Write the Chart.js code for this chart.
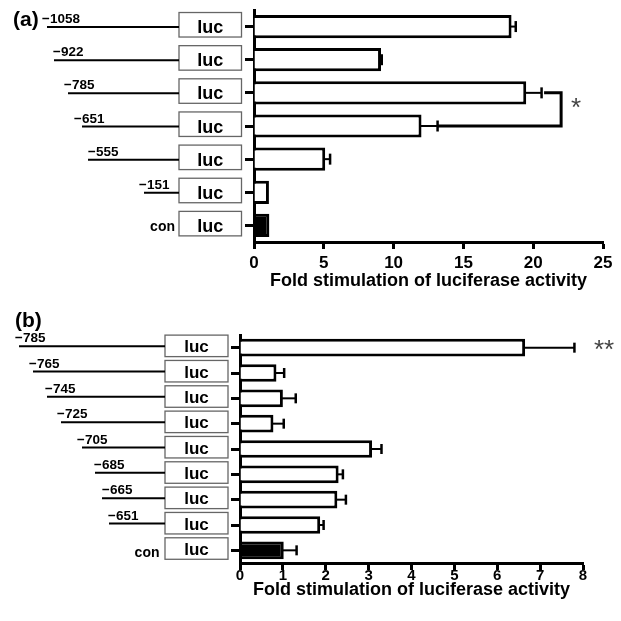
<!DOCTYPE html>
<html><head><meta charset="utf-8">
<script src="https://cdn.jsdelivr.net/npm/chart.js@4.4.1/dist/chart.umd.min.js"></script>
<style>
html,body{margin:0;padding:0;background:#fff;}
#wrap{position:relative;width:621px;height:621px;overflow:hidden;background:#fff;}
canvas{position:absolute;left:0;}
#ca{top:0;} #cb{top:300px;}
</style></head><body>
<div id="wrap"><canvas id="ca" width="621" height="300"></canvas><canvas id="cb" width="621" height="321"></canvas></div>
<script>
// ---- data: panel (a) ----
const constructsA = ['\u22121058', '\u2212922', '\u2212785', '\u2212651', '\u2212555', '\u2212151', 'con'];
const foldA = [18.45, 9.1, 19.5, 12.0, 5.1, 1.07, 1.1];
const errA = [0.3, 0.05, 1.1, 1.15, 0.35, 0, 0];
const ticksA = [0, 5, 10, 15, 20, 25];
// ---- data: panel (b) ----
const constructsB = ['\u2212785', '\u2212765', '\u2212745', '\u2212725', '\u2212705', '\u2212685', '\u2212665', '\u2212651', 'con'];
const foldB = [6.65, 0.85, 1.0, 0.78, 3.08, 2.3, 2.27, 1.87, 1.02];
const errB = [1.15, 0.18, 0.3, 0.24, 0.22, 0.1, 0.2, 0.08, 0.3];
const ticksB = [0, 1, 2, 3, 4, 5, 6, 7, 8];
const axisTitle = 'Fold stimulation of luciferase activity';

const FF = '"Liberation Sans", Arial, Helvetica, sans-serif';
Chart.defaults.font.family = FF;
Chart.defaults.color = '#000';

const errorBarPlugin = {
  id: 'errorBars',
  afterDatasetsDraw(chart, args, o) {
    const {ctx} = chart; const x = chart.scales.x, y = chart.scales.y;
    const data = chart.data.datasets[0].data;
    ctx.save(); ctx.strokeStyle = '#000'; ctx.lineCap = 'butt';
    data.forEach((v, i) => {
      const e = o.errors[i]; if (!e) return;
      const yp = y.getPixelForValue(i);
      const x0 = x.getPixelForValue(v), x1 = x.getPixelForValue(v + e);
      ctx.lineWidth = 2; ctx.beginPath(); ctx.moveTo(x0 - 1, yp); ctx.lineTo(x1, yp); ctx.stroke();
      ctx.lineWidth = 2.5; ctx.beginPath(); ctx.moveTo(x1, yp - o.cap / 2); ctx.lineTo(x1, yp + o.cap / 2); ctx.stroke();
    });
    if (o.bracket) {
      const b = o.bracket;
      const y1 = y.getPixelForValue(b.rows[0]), y2 = y.getPixelForValue(b.rows[1]);
      const xr = x.getPixelForValue(b.at);
      const xa = x.getPixelForValue(data[b.rows[0]] + o.errors[b.rows[0]]) + 2.5;
      const xb = x.getPixelForValue(data[b.rows[1]] + o.errors[b.rows[1]]);
      ctx.lineWidth = 3; ctx.lineJoin = 'miter';
      ctx.beginPath(); ctx.moveTo(xa, y1); ctx.lineTo(xr, y1); ctx.lineTo(xr, y2); ctx.lineTo(xb, y2); ctx.stroke();
    }
    if (o.star) {
      const s = o.star;
      const yp = (y.getPixelForValue(s.rows[0]) + y.getPixelForValue(s.rows[s.rows.length - 1])) / 2 + s.dy;
      ctx.fillStyle = '#444'; ctx.font = s.size + 'px ' + FF;
      ctx.textAlign = 'center'; ctx.textBaseline = 'middle';
      ctx.fillText(s.text, x.getPixelForValue(s.at), yp);
    }
    ctx.restore();
  }
};

const diagramPlugin = {
  id: 'diagram',
  afterDraw(chart, args, d) {
    const {ctx} = chart; const y = chart.scales.y;
    const labels = chart.data.labels;
    ctx.save();
    labels.forEach((lab, i) => {
      const yc = y.getPixelForValue(i);
      const by = yc + d.boxDy;
      ctx.fillStyle = '#fff';
      ctx.fillRect(d.boxL, by - d.boxH / 2, d.boxR - d.boxL, d.boxH);
      ctx.strokeStyle = '#666'; ctx.lineWidth = 1.3;
      ctx.strokeRect(d.boxL, by - d.boxH / 2, d.boxR - d.boxL, d.boxH);
      ctx.fillStyle = '#000'; ctx.textBaseline = 'alphabetic';
      ctx.font = 'bold ' + d.lucSize + 'px ' + FF; ctx.textAlign = 'center';
      ctx.fillText('luc', (d.boxL + d.boxR) / 2, by + d.lucDy);
      if (lab === 'con') {
        ctx.font = 'bold ' + d.conSize + 'px ' + FF; ctx.textAlign = 'right';
        ctx.fillText('con', d.conRight, yc + d.conDy);
      } else {
        const ly = yc + d.lineDy;
        ctx.strokeStyle = '#000'; ctx.lineWidth = 2;
        ctx.beginPath(); ctx.moveTo(d.lineStart[i], ly); ctx.lineTo(d.boxL, ly); ctx.stroke();
        ctx.font = 'bold ' + d.labelSize + 'px ' + FF; ctx.textAlign = 'left';
        ctx.fillText(lab, d.labelLeft[i], ly - d.labelGap);
      }
    });
    ctx.font = 'bold 21px ' + FF; ctx.textAlign = 'left'; ctx.fillStyle = '#000';
    ctx.fillText(d.panel, d.panelX, d.panelY);
    ctx.restore();
  }
};

function makeChart(id, labels, values, errors, ticks, cfg) {
  return new Chart(document.getElementById(id), {
    type: 'bar',
    data: {
      labels: labels,
      datasets: [{
        data: values,
        backgroundColor: labels.map(l => l === 'con' ? '#000' : '#fff'),
        borderColor: '#000', borderWidth: 3,
        categoryPercentage: 1, barPercentage: 0.7
      }]
    },
    options: {
      indexAxis: 'y', responsive: false, animation: false, devicePixelRatio: 1,
      layout: {padding: {left: 0, top: cfg.padTop, right: cfg.padRight, bottom: 0}},
      plugins: {
        legend: {display: false}, tooltip: {enabled: false},
        errorBars: {errors: errors, cap: cfg.cap, bracket: cfg.bracket, star: cfg.star},
        diagram: cfg.diagram
      },
      scales: {
        x: {
          type: 'linear', min: ticks[0], max: ticks[ticks.length - 1], z: 1,
          afterBuildTicks: s => { s.ticks = ticks.map(v => ({value: v})); },
          ticks: {font: {size: cfg.tickSize, weight: 'bold'}, color: '#000', padding: cfg.tickPad, maxRotation: 0, autoSkip: false},
          grid: {drawOnChartArea: false, drawTicks: true, tickLength: 7, tickWidth: 3, color: '#000'},
          border: {display: true, width: 3, color: '#000'},
          title: {display: true, text: axisTitle, color: '#000', font: {size: 18, weight: 'bold'}, padding: {top: 0, bottom: cfg.titlePad}},
          afterFit: s => { s.height = 58; }
        },
        y: {
          type: 'category', offset: true, z: 1,
          ticks: {display: false},
          grid: {offset: false, drawOnChartArea: false, drawTicks: true, tickLength: 9, tickWidth: 3, color: '#000'},
          border: {display: true, width: 3, color: '#000'},
          afterFit: s => { s.width = cfg.yWidth; }
        }
      }
    },
    plugins: [errorBarPlugin, diagramPlugin]
  });
}

makeChart('ca', constructsA, foldA, errA, ticksA, {
  padTop: 10, padRight: 18, yWidth: 254, tickSize: 17, tickPad: 4, titlePad: 8, cap: 11,
  bracket: {rows: [2, 3], at: 22.0},
  star: {rows: [2, 3], at: 23.07, text: '*', size: 26, dy: -1},
  diagram: {
    boxL: 179, boxR: 241.5, boxH: 24.5, boxDy: -1.8, lucSize: 18, lucDy: 8.3,
    lineDy: 0.5, labelGap: 4, labelSize: 13.5,
    lineStart: [47, 54, 68, 82, 88, 144], labelLeft: [42, 53, 64, 74, 88, 139],
    conSize: 14, conRight: 175, conDy: 6,
    panel: '(a)', panelX: 13, panelY: 26
  }
});

makeChart('cb', constructsB, foldB, errB, ticksB, {
  padTop: 35, padRight: 38, yWidth: 240, tickSize: 15, tickPad: -3, titlePad: 20, cap: 10,
  bracket: null,
  star: {rows: [0], at: 8.49, text: '**', size: 26, dy: 3},
  diagram: {
    boxL: 165, boxR: 228, boxH: 21.5, boxDy: -1.8, lucSize: 17, lucDy: 6.5,
    lineDy: -1.5, labelGap: 4, labelSize: 13.5,
    lineStart: [19, 33, 47, 61, 82, 95, 102, 109], labelLeft: [15, 29, 45, 57, 77, 94, 102, 108],
    conSize: 14, conRight: 159.5, conDy: 7,
    panel: '(b)', panelX: 15, panelY: 27
  }
});
</script>
</body></html>
